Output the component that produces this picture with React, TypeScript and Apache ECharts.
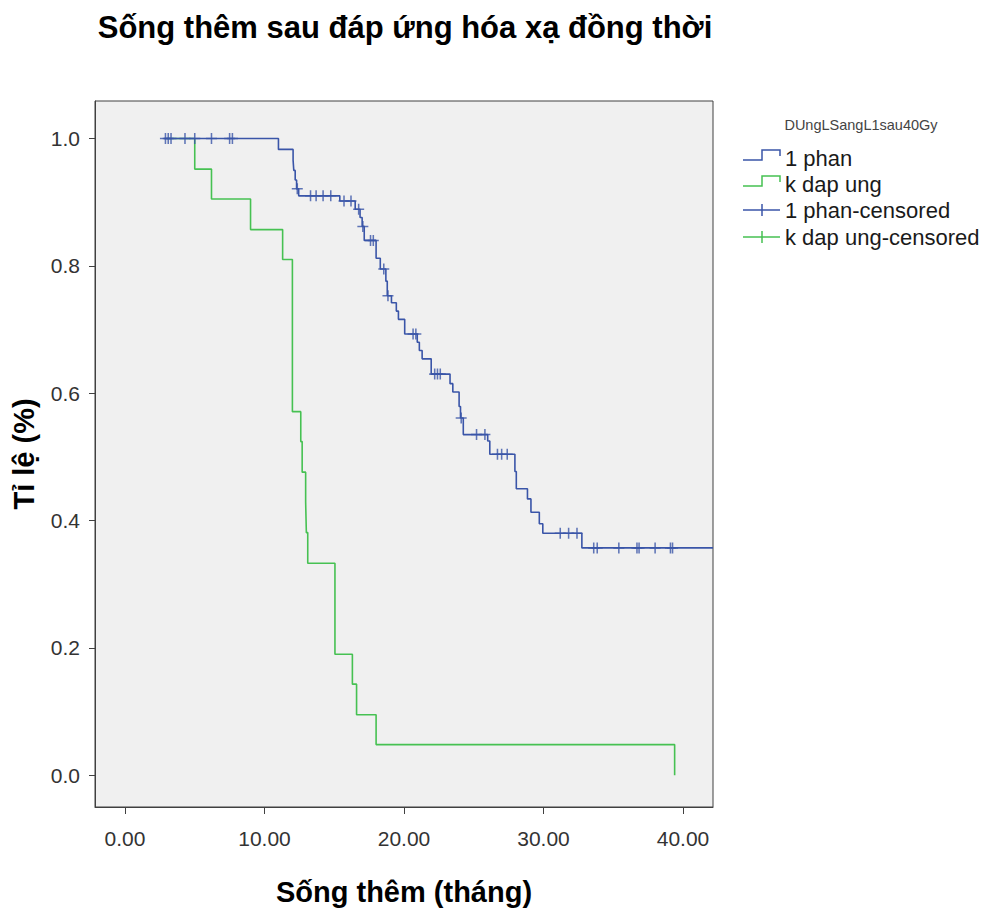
import React, { useEffect, useRef } from "react";
import * as echarts from "echarts";

const titleText = "Sống thêm sau đáp ứng hóa xạ đồng thời";
const xAxisTitle = "Sống thêm (tháng)";
const yAxisTitle = "Tỉ lệ (%)";
const legendTitle = "DUngLSangL1sau40Gy";
const groupNames = ["1 phan", "k dap ung", "1 phan-censored", "k dap ung-censored"];

const xTicks = [0, 10, 20, 30, 40];
const yTicks = [0, 0.2, 0.4, 0.6, 0.8, 1.0];

// "1 phan" group: step times and survival after each step
const phanTimes = [2.8, 11.0, 12.05, 12.1, 12.2, 12.3, 12.45, 15.4, 16.5, 16.85, 17.0, 17.15, 18.0, 18.3, 18.7, 18.8, 19.1, 19.45, 19.6, 20.05, 20.95, 21.1, 21.3, 21.95, 23.3, 23.5, 23.95, 24.05, 24.25, 26.0, 26.15, 27.95, 28.05, 28.85, 29.1, 29.7, 29.95, 32.75, 42.15];
const phanSurv = [1.0, 0.983, 0.966, 0.95, 0.935, 0.921, 0.91, 0.902, 0.889, 0.876, 0.862, 0.84, 0.812, 0.795, 0.776, 0.753, 0.742, 0.729, 0.716, 0.693, 0.68, 0.667, 0.654, 0.63, 0.615, 0.602, 0.579, 0.561, 0.535, 0.525, 0.504, 0.477, 0.45, 0.434, 0.413, 0.395, 0.38, 0.357, 0.357];
const phanCensorTimes = [2.9, 3.1, 3.3, 4.3, 5.0, 6.2, 7.5, 7.7, 12.35, 13.3, 13.7, 14.2, 14.75, 15.7, 16.2, 16.75, 17.05, 17.6, 17.8, 18.55, 18.85, 20.65, 20.85, 22.2, 22.4, 22.6, 24.1, 25.2, 25.8, 26.7, 27.0, 27.4, 31.2, 31.8, 32.4, 33.6, 33.85, 35.4, 36.7, 36.85, 38.0, 39.1, 39.25];

// "k dap ung" group
const kTimes = [3.0, 5.0, 6.2, 9.0, 11.3, 12.0, 12.6, 12.7, 12.95, 13.0, 13.1, 15.05, 16.3, 16.6, 18.0, 39.4];
const kSurv = [1.0, 0.952, 0.905, 0.857, 0.81, 0.571, 0.524, 0.476, 0.429, 0.381, 0.333, 0.19, 0.143, 0.095, 0.048, 0.0];
const kCensorTimes: number[] = [];

const BLUE = "#3a55a8";
const GREEN = "#46c152";
const FONT = '"Liberation Sans", Arial, sans-serif';

function levelAt(times: number[], surv: number[], t: number): number {
  let v = surv[0];
  for (let i = 0; i < times.length; i++) {
    if (times[i] <= t) v = surv[i];
  }
  return v;
}

const CROSS = "path://M0,8.6 L20,8.6 L20,11.4 L0,11.4 Z M8.6,0 L11.4,0 L11.4,20 L8.6,20 Z";

export default function App() {
  const ref = useRef<HTMLDivElement>(null);
  useEffect(() => {
    if (!ref.current) return;
    const chart = echarts.init(ref.current, undefined, { renderer: "svg" });
    const legendX = 743;
    const rows = [158, 184, 210, 237];
    const stepIcon = (y: number, color: string) => ({
      type: "polyline",
      shape: { points: [[legendX, y + 2], [legendX + 19, y + 2], [legendX + 19, y - 8], [legendX + 37, y - 8], [legendX + 37, y - 2]] },
      style: { stroke: color, lineWidth: 1.5, fill: "none" },
    });
    const crossIcon = (y: number, color: string) => ({
      type: "group",
      children: [
        { type: "line", shape: { x1: legendX, y1: y, x2: legendX + 37, y2: y }, style: { stroke: color, lineWidth: 1.5 } },
        { type: "line", shape: { x1: legendX + 19, y1: y - 6, x2: legendX + 19, y2: y + 6 }, style: { stroke: color, lineWidth: 1.5 } },
      ],
    });
    const legendText = (y: number, text: string) => ({
      type: "text",
      x: legendX + 42,
      y,
      style: { text, fontFamily: FONT, fontSize: 22, fill: "#1a1a1a", align: "left", verticalAlign: "middle" },
    });
    chart.setOption({
      animation: false,
      backgroundColor: "#ffffff",
      grid: {
        left: 95,
        top: 101,
        width: 618,
        height: 714,
        show: true,
        backgroundColor: "#f0f0f0",
        borderColor: "#404040",
        borderWidth: 1,
      },
      xAxis: {
        type: "value",
        min: -2.15,
        max: 42.15,
        name: xAxisTitle,
        nameLocation: "middle",
        nameGap: 70,
        nameTextStyle: { fontFamily: FONT, fontSize: 29, fontWeight: "bold", color: "#000" },
        axisLine: { show: true, onZero: false, lineStyle: { color: "#404040" } },
        axisTick: { show: true, customValues: xTicks, length: 7, lineStyle: { color: "#404040" } },
        axisLabel: {
          customValues: xTicks,
          formatter: (v: number) => v.toFixed(2),
          fontFamily: FONT,
          fontSize: 21,
          color: "#333",
          margin: 21,
        },
        splitLine: { show: false },
      },
      yAxis: {
        type: "value",
        min: -0.05,
        max: 1.059,
        name: yAxisTitle,
        nameLocation: "middle",
        nameRotate: 90,
        nameGap: 57,
        nameTextStyle: { fontFamily: FONT, fontSize: 29, fontWeight: "bold", color: "#000" },
        axisLine: { show: true, onZero: false, lineStyle: { color: "#404040" } },
        axisTick: { show: true, customValues: yTicks, length: 6, lineStyle: { color: "#404040" } },
        axisLabel: {
          customValues: yTicks,
          formatter: (v: number) => v.toFixed(1),
          fontFamily: FONT,
          fontSize: 21,
          color: "#333",
          margin: 15,
        },
        splitLine: { show: false },
      },
      series: [
        {
          name: groupNames[1],
          type: "line",
          step: "end",
          symbol: "none",
          data: kTimes.map((t, i) => [t, kSurv[i]]),
          lineStyle: { color: GREEN, width: 1.6 },
          itemStyle: { color: GREEN },
          z: 2,
        },
        {
          name: groupNames[0],
          type: "line",
          step: "end",
          symbol: "none",
          data: phanTimes.map((t, i) => [t, phanSurv[i]]),
          lineStyle: { color: BLUE, width: 1.6 },
          itemStyle: { color: BLUE },
          z: 3,
        },
        {
          name: groupNames[3],
          type: "scatter",
          symbol: CROSS,
          symbolSize: 11,
          data: kCensorTimes.map((t) => [t, levelAt(kTimes, kSurv, t)]),
          itemStyle: { color: GREEN },
          z: 4,
        },
        {
          name: groupNames[2],
          type: "scatter",
          symbol: CROSS,
          symbolSize: 11,
          data: phanCensorTimes.map((t) => [t, levelAt(phanTimes, phanSurv, t)]),
          itemStyle: { color: BLUE },
          z: 5,
        },
      ],
      graphic: [
        {
          type: "text",
          x: 405,
          y: 27,
          style: { text: titleText, fontFamily: FONT, fontSize: 31, fontWeight: "bold", fill: "#000", align: "center", verticalAlign: "middle" },
        },
        {
          type: "text",
          x: 861,
          y: 125,
          style: { text: legendTitle, fontFamily: FONT, fontSize: 14.5, fill: "#444", align: "center", verticalAlign: "middle" },
        },
        stepIcon(rows[0], BLUE),
        legendText(rows[0], groupNames[0]),
        stepIcon(rows[1], GREEN),
        legendText(rows[1], groupNames[1]),
        crossIcon(rows[2], BLUE),
        legendText(rows[2], groupNames[2]),
        crossIcon(rows[3], GREEN),
        legendText(rows[3], groupNames[3]),
      ],
    });
    return () => chart.dispose();
  }, []);
  return <div ref={ref} style={{ position: "absolute", left: 0, top: 0, width: 994, height: 911 }} />;
}
